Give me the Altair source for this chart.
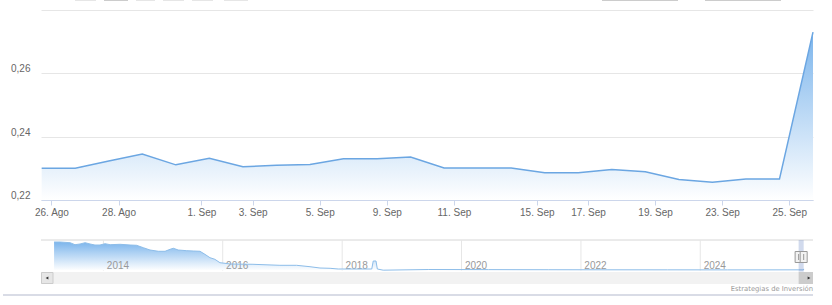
import json
from datetime import datetime
import altair as alt
import pandas as pd

# ---------------- main series (daily closes, ordinal axis) ----------------
main_dates = ["2025-08-25", "2025-08-26", "2025-08-27", "2025-08-28", "2025-08-29",
              "2025-09-01", "2025-09-02", "2025-09-03", "2025-09-04", "2025-09-05",
              "2025-09-08", "2025-09-09", "2025-09-10", "2025-09-11", "2025-09-12",
              "2025-09-15", "2025-09-16", "2025-09-17", "2025-09-18", "2025-09-19",
              "2025-09-22", "2025-09-23", "2025-09-24", "2025-09-25"]
main_values = [0.2300, 0.2300, 0.2323, 0.2345, 0.2311,
               0.2332, 0.2305, 0.2310, 0.2312, 0.2330,
               0.2330, 0.2336, 0.2301, 0.2301, 0.2301,
               0.2286, 0.2286, 0.2296, 0.2289, 0.2265,
               0.2256, 0.2266, 0.2266, 0.2730]

tick_dates = ["2025-08-26", "2025-08-28", "2025-09-01", "2025-09-03", "2025-09-05",
              "2025-09-09", "2025-09-11", "2025-09-15", "2025-09-17", "2025-09-19",
              "2025-09-23", "2025-09-25"]
tick_labels = ["26. Ago", "28. Ago", "1. Sep", "3. Sep", "5. Sep", "9. Sep",
               "11. Sep", "15. Sep", "17. Sep", "19. Sep", "23. Sep", "25. Sep"]

y_ticks = [0.22, 0.24, 0.26, 0.28]

# ---------------- navigator series (full history) ----------------
nav_dates = ["2013-03-05", "2013-04-11", "2013-06-11", "2013-07-11", "2013-08-11",
             "2013-09-11", "2013-10-11", "2013-11-10", "2013-12-11", "2014-01-11",
             "2014-02-11", "2014-04-13", "2014-06-13", "2014-07-23", "2014-09-02",
             "2014-10-13", "2014-12-03", "2015-01-13", "2015-02-13", "2015-03-05",
             "2015-04-04", "2015-05-26", "2015-07-05", "2015-08-15", "2015-09-14",
             "2015-10-15", "2015-11-14", "2015-12-15", "2016-01-15", "2016-02-15",
             "2016-07-04", "2016-12-16", "2017-03-28", "2017-06-18", "2017-08-18",
             "2017-10-19", "2017-12-08", "2018-07-01", "2018-07-10", "2018-07-27",
             "2018-08-04", "2018-09-09", "2019-06-15", "2020-06-15", "2021-06-15",
             "2022-06-15", "2023-06-15", "2024-06-15", "2025-08-22", "2025-09-24",
             "2025-09-25"]
nav_values = [1.50, 1.50, 1.468, 1.377, 1.409,
              1.468, 1.409, 1.363, 1.363, 1.422,
              1.377, 1.395, 1.363, 1.349, 1.240,
              1.135, 1.076, 1.076, 1.167, 1.213,
              1.135, 1.103, 1.089, 1.076, 0.939,
              0.784, 0.711, 0.556, 0.528, 0.496,
              0.483, 0.437, 0.437, 0.373, 0.314,
              0.300, 0.268, 0.268, 0.633, 0.633,
              0.268, 0.215, 0.245, 0.240, 0.235,
              0.232, 0.230, 0.228, 0.230, 0.227,
              0.273]
nav_years = ["2014", "2016", "2018", "2020", "2022", "2024"]
selection = ["2025-08-25", "2025-09-25"]
credit = "Estrategias de Inversión"

# ---------------- derived tables ----------------
close_t = [datetime.strptime(d, "%Y-%m-%d").replace(hour=17) for d in main_dates]


def ordinal_pos(day):
    t = datetime.strptime(day, "%Y-%m-%d")
    for k in range(len(close_t) - 1):
        if close_t[k] <= t < close_t[k + 1]:
            return round(k + (t - close_t[k]) / (close_t[k + 1] - close_t[k]), 4)
    return float(len(close_t) - 1)


tick_pos = [ordinal_pos(d) for d in tick_dates]

main_df = pd.DataFrame({"idx": list(range(len(main_values))), "value": main_values})
nav_df = pd.DataFrame({"date": nav_dates, "value": nav_values})
year_df = pd.DataFrame({"date": [y + "-01-01" for y in nav_years], "label": nav_years})
sel_df = pd.DataFrame({"start": [selection[0]], "end": [selection[1]]})
handle_df = pd.DataFrame({"date": selection})
one = pd.DataFrame({"a": [0]})

FONT = "Liberation Sans"
BLUE = "#7cb5ec"
LINE = "#6ba6e2"
grad = {"gradient": "linear", "x1": 1, "x2": 1, "y1": 0, "y2": 1,
        "stops": [{"offset": 0, "color": BLUE}, {"offset": 1, "color": "#ffffff"}]}

xs_main = alt.Scale(domain=[-0.02, 23.0], range=[0, 772], nice=False, zero=False)
ys_main = alt.Scale(domain=[0.22, 0.28], range=[190, 0], nice=False, zero=False)
xs_nav = alt.Scale(domain=["2012-12-15", "2025-11-21"], range=[0, 772], nice=False)
ys_nav = alt.Scale(domain=[0.20, 1.50], range=[260.5, 232], nice=False, zero=False)

x_axis = alt.Axis(
    values=tick_pos,
    labelExpr=f"{json.dumps(tick_labels)}[indexof({json.dumps(tick_pos)}, datum.value)]",
    title=None, grid=False, offset=-105, labelFlush=False, labelOverlap=False,
    domainColor="#ccd6eb", tickColor="#ccd6eb", tickSize=5, labelPadding=2,
    labelFont=FONT, labelFontSize=10, labelColor="#666666",
)
y_axis = alt.Axis(
    values=y_ticks,
    labelExpr="datum.value > 0.27 ? '' : replace(format(datum.value, '.2f'), '.', ',')",
    title=None, grid=True, gridColor="#e6e6e6", domain=False, ticks=False,
    labelPadding=11, labelBaseline="alphabetic", labelOffset=-1.5,
    labelFont=FONT, labelFontSize=10, labelColor="#666666",
)

main_area = alt.Chart(main_df).mark_area(color=grad, interpolate="linear").encode(
    x=alt.X("idx:Q", scale=xs_main, axis=x_axis),
    y=alt.Y("value:Q", scale=ys_main, axis=y_axis),
    y2=alt.datum(0.22),
)
main_line = alt.Chart(main_df).mark_line(color=LINE, strokeWidth=1.5).encode(
    x=alt.X("idx:Q", scale=xs_main, axis=None),
    y=alt.Y("value:Q", scale=ys_main, axis=None),
)

# navigator
nav_outline = alt.Chart(one).mark_rule(color="#d6d6d6", strokeWidth=1).encode(
    x=alt.value(0), x2=alt.value(772), y=alt.value(230))
nav_grid = alt.Chart(year_df).mark_rule(color="#e6e6e6", strokeWidth=1).encode(
    x=alt.X("date:T", scale=xs_nav, axis=None), y=alt.value(230), y2=alt.value(261))
nav_area = alt.Chart(nav_df).mark_area(color=grad, interpolate="linear").encode(
    x=alt.X("date:T", scale=xs_nav, axis=None),
    y=alt.Y("value:Q", scale=ys_nav, axis=None),
    y2=alt.datum(0.20),
)
nav_labels = alt.Chart(year_df).mark_text(
    align="left", baseline="alphabetic", dx=3.4, font=FONT, fontSize=10, color="#999999"
).encode(x=alt.X("date:T", scale=xs_nav, axis=None), y=alt.value(258.5), text="label:N")
nav_line = alt.Chart(nav_df).mark_line(color="#8dbde9", strokeWidth=1).encode(
    x=alt.X("date:T", scale=xs_nav, axis=None),
    y=alt.Y("value:Q", scale=ys_nav, axis=None),
)
nav_mask = alt.Chart(sel_df).mark_rect(color="#6685c2", opacity=0.3).encode(
    x=alt.X("start:T", scale=xs_nav, axis=None), x2="end:T",
    y=alt.value(230), y2=alt.value(261.7))
handles = alt.Chart(handle_df).mark_rect(
    fill="#f2f2f2", stroke="#999999", strokeWidth=1, xOffset=-3.5, x2Offset=3.5
).encode(x=alt.X("date:T", scale=xs_nav, axis=None), x2="date:T",
         y=alt.value(241.5), y2=alt.value(252.5))
handle_lines = alt.Chart(handle_df).mark_rule(color="#999999", strokeWidth=1).encode(
    x=alt.X("date:T", scale=xs_nav, axis=None), y=alt.value(244), y2=alt.value(250))

# scrollbar
track = alt.Chart(one).mark_rect(fill="#f2f2f2").encode(
    x=alt.value(0), x2=alt.value(772), y=alt.value(262), y2=alt.value(274))
left_btn = alt.Chart(one).mark_rect(fill="#e6e6e6", stroke="#cccccc", strokeWidth=1).encode(
    x=alt.value(0.5), x2=alt.value(12), y=alt.value(262.5), y2=alt.value(273.5))
thumb = alt.Chart(sel_df).mark_rect(fill="#cccccc").encode(
    x=alt.X("start:T", scale=xs_nav, axis=None), x2=alt.value(772),
    y=alt.value(262), y2=alt.value(274))
arrows = alt.Chart(pd.DataFrame({"shape": ["triangle-left", "triangle-right"],
                                 "px": [6, 768]})).mark_point(
    filled=True, color="#333333", size=10, opacity=1).encode(
    x=alt.X("px:Q", scale=alt.Scale(domain=[0, 772], range=[0, 772]), axis=None),
    y=alt.value(268),
    shape=alt.Shape("shape:N", scale=None),
)

credit_txt = alt.Chart(one).mark_text(
    align="right", baseline="middle", font="DejaVu Sans", fontSize=6.8, color="#999999"
).encode(x=alt.value(772), y=alt.value(279), text=alt.value(credit))
bottom_line = alt.Chart(one).mark_rule(color="#cdd0de", strokeWidth=1.5).encode(
    x=alt.value(-38), x2=alt.value(772), y=alt.value(285))

# faint edges of the range-selector controls cut off at the very top
top_df = pd.DataFrame({"x0": [34, 63, 95, 122, 151, 183, 561, 664],
                       "x1": [55, 87, 114, 143, 172, 207, 637, 740],
                       "c": ["#e6e6e6", "#cccccc", "#e6e6e6", "#e6e6e6", "#e6e6e6",
                             "#e6e6e6", "#cccccc", "#cccccc"]})
top_bits = alt.Chart(top_df).mark_rule(strokeWidth=1).encode(
    x=alt.X("x0:Q", scale=alt.Scale(domain=[0, 772], range=[0, 772]), axis=None),
    x2="x1:Q", y=alt.value(-9.5), color=alt.Color("c:N", scale=None))

chart = alt.layer(
    main_area, main_line,
    nav_outline, nav_grid, nav_area, nav_labels, nav_line, nav_mask,
    track, left_btn, thumb, arrows, handles, handle_lines,
    credit_txt, bottom_line, top_bits,
).resolve_scale(x="independent", y="independent").properties(
    width=772, height=295,
    padding={"left": 41, "top": 10, "right": 19, "bottom": 0},
    autosize=alt.AutoSizeParams(type="none"),
    background="#ffffff",
).configure_view(stroke=None)

chart.save("out.html", embed_options={"renderer": "svg", "actions": False})
